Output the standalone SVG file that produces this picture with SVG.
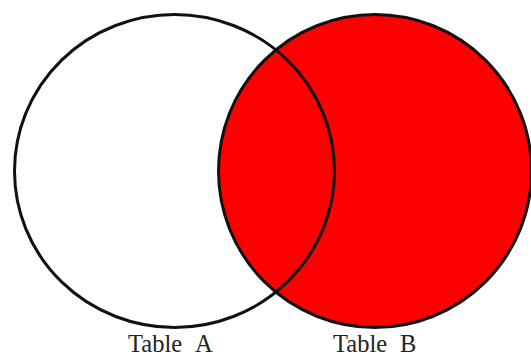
<svg xmlns="http://www.w3.org/2000/svg" width="531" height="356" viewBox="0 0 531 356">
<style>
.lbl{font-family:"Liberation Serif","Times New Roman",serif;font-size:24.5px;fill:#222}
.ring{fill:none;stroke:#111;stroke-width:3}
</style>
<rect width="531" height="356" fill="#ffffff"/>
<g id="tableA-fill"><ellipse cx="174.5" cy="171" rx="160" ry="156.5" fill="#ffffff"/></g>
<g id="tableB"><circle cx="375" cy="171" r="156.5" fill="#fe0000"/><circle class="ring" cx="375" cy="171" r="156.5"/></g>
<g id="tableA"><ellipse class="ring" cx="174.5" cy="171" rx="160" ry="156.5"/></g>
<g id="labels">
<text class="lbl" x="128" y="352">Table</text><text class="lbl" x="195" y="352">A</text>
<text class="lbl" x="333" y="352">Table</text><text class="lbl" x="400" y="352">B</text>
</g>
</svg>
